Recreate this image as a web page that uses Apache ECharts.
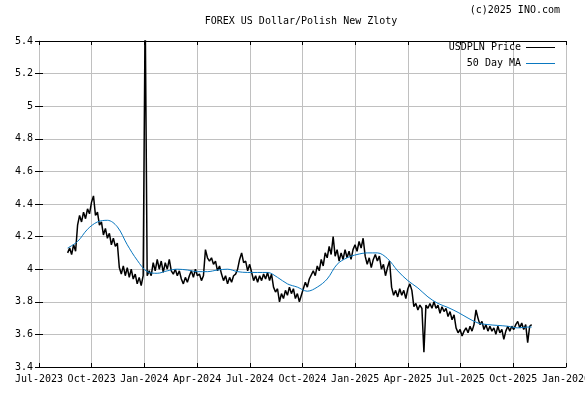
<!DOCTYPE html>
<html>
<head>
<meta charset="utf-8">
<script src="https://cdn.jsdelivr.net/npm/echarts@6/dist/echarts.min.js"></script>
<style>
html,body{margin:0;padding:0;background:#fff;}
#chart{width:585px;height:394px;}
</style>
</head>
<body>
<div id="chart"></div>
<script>
// Quarter tick labels and their dates
const quarterLabels = ['Jul-2023','Oct-2023','Jan-2024','Apr-2024','Jul-2024','Oct-2024','Jan-2025','Apr-2025','Jul-2025','Oct-2025','Jan-2026'];
const quarterStarts = ['2023-07-01','2023-10-01','2024-01-01','2024-04-01','2024-07-01','2024-10-01','2025-01-01','2025-04-01','2025-07-01','2025-10-01','2026-01-01'];

// Price samples (regularly spaced from priceStart, every priceStepDays)
const priceStart = '2023-08-20';
const priceStepDays = 3.47;
const priceValues = [
  4.10,4.13,4.09,4.15,4.11,4.27,4.33,4.29,4.35,4.31,
  4.37,4.34,4.41,4.45,4.33,4.35,4.27,4.29,4.21,4.25,
  4.19,4.22,4.15,4.19,4.14,4.16,4.01,3.97,4.02,3.96,
  4.01,3.95,4.00,3.94,3.97,3.91,3.95,3.90,3.96,5.60,
  3.96,3.99,3.96,4.04,3.99,4.06,4.00,4.05,3.98,4.04,
  4.00,4.06,3.99,3.97,4.00,3.96,3.99,3.94,3.91,3.95,
  3.92,3.96,3.99,3.95,4.00,3.96,3.97,3.93,3.96,4.12,
  4.07,4.05,4.07,4.03,4.05,3.99,4.02,3.97,3.93,3.96,
  3.91,3.95,3.92,3.96,3.97,4.00,4.06,4.10,4.04,4.05,
  3.99,4.03,3.98,3.93,3.96,3.92,3.96,3.93,3.97,3.94,
  3.98,3.93,3.97,3.89,3.86,3.88,3.80,3.85,3.82,3.87,
  3.84,3.89,3.85,3.88,3.82,3.85,3.80,3.84,3.88,3.92,
  3.89,3.94,3.95,3.99,3.96,4.02,3.99,4.06,4.02,4.10,
  4.07,4.14,4.09,4.20,4.08,4.12,4.05,4.10,4.06,4.12,
  4.07,4.11,4.06,4.12,4.15,4.11,4.17,4.13,4.19,4.08,
  4.03,4.07,4.01,4.06,4.09,4.05,4.08,4.00,4.03,3.96,
  4.01,4.05,3.89,3.84,3.87,3.83,3.88,3.84,3.87,3.82,
  3.88,3.91,3.87,3.77,3.79,3.75,3.78,3.76,3.49,3.78,
  3.76,3.79,3.76,3.80,3.76,3.78,3.73,3.77,3.74,3.76,
  3.71,3.74,3.69,3.72,3.64,3.61,3.63,3.59,3.62,3.64,
  3.61,3.65,3.62,3.66,3.75,3.70,3.66,3.68,3.63,3.66,
  3.62,3.65,3.62,3.64,3.60,3.65,3.61,3.63,3.57,3.62,
  3.65,3.62,3.65,3.63,3.66,3.68,3.64,3.67,3.63,3.66,
  3.55,3.65,3.66
];

// 50 day moving average, sampled every 5th price sample (last one at the final sample)
const maEvery = 5;
const maValues = [
  4.13,4.17,4.245,4.29,4.30,4.26,4.15,4.055,3.985,3.975,
  3.99,4.00,3.995,3.985,3.985,3.995,4.00,3.985,3.98,3.98,
  3.98,3.95,3.91,3.89,3.865,3.89,3.94,4.03,4.07,4.09,
  4.10,4.10,4.065,3.99,3.93,3.885,3.83,3.79,3.765,3.735,
  3.70,3.67,3.66,3.655,3.65,3.64,3.645,3.645
];

const FONT = '"DejaVu Sans Mono", monospace';
const DAY = 86400000;
const qMs = quarterStarts.map(s => Date.parse(s + 'T00:00:00Z'));
function toQuarterPos(t) {
  for (let k = 0; k < qMs.length - 1; k++) {
    if (t >= qMs[k] && t < qMs[k + 1]) return k + (t - qMs[k]) / (qMs[k + 1] - qMs[k]);
  }
  return qMs.length - 1;
}
const t0 = Date.parse(priceStart + 'T00:00:00Z');
const priceX = priceValues.map((_, i) => toQuarterPos(t0 + i * priceStepDays * DAY));
const priceData = priceValues.map((v, i) => [priceX[i], v]);
const maData = maValues.map((v, k) => [priceX[Math.min(k * maEvery, priceValues.length - 1)], v]);

const chart = echarts.init(document.getElementById('chart'), null, {renderer: 'canvas'});
const gridColor = '#c0c0c0';
const tickStyle = {show: true, inside: true, length: 4, lineStyle: {color: '#000', width: 1}};
chart.setOption({
  animation: false,
  backgroundColor: '#fff',
  grid: {left: 39, right: 19, top: 41, bottom: 27, containLabel: false, outerBoundsMode: 'none'},
  graphic: [
    {type: 'text', x: 301, y: 21, style: {text: 'FOREX US Dollar/Polish New Zloty', font: '10px ' + FONT, fill: '#000', textAlign: 'center', textVerticalAlign: 'middle'}},
    {type: 'text', x: 560, y: 10, style: {text: '(c)2025 INO.com', font: '10px ' + FONT, fill: '#000', textAlign: 'right', textVerticalAlign: 'middle'}}
  ],
  legend: [
    {data: ['USDPLN Price'], orient: 'vertical', right: 30, top: 42.5, align: 'right', icon: 'rect', itemWidth: 29, itemHeight: 1, padding: 0,
     textStyle: {fontFamily: FONT, fontSize: 10, color: '#000'}, selectedMode: false},
    {data: ['50 Day MA'], orient: 'vertical', right: 30, top: 58.5, align: 'right', icon: 'rect', itemWidth: 29, itemHeight: 1, padding: 0,
     textStyle: {fontFamily: FONT, fontSize: 10, color: '#000'}, selectedMode: false}
  ],
  xAxis: [
    {type: 'value', min: 0, max: 10, interval: 1, position: 'bottom',
     axisLine: {show: true, lineStyle: {color: '#000', width: 1}},
     axisTick: tickStyle,
     axisLabel: {formatter: v => quarterLabels[Math.round(v)] || '', fontFamily: FONT, fontSize: 10, color: '#000', margin: 7, hideOverlap: false},
     splitLine: {show: true, lineStyle: {color: gridColor, width: 1}}},
    {type: 'value', min: 0, max: 10, interval: 1, position: 'top',
     axisLine: {show: true, lineStyle: {color: '#000', width: 1}},
     axisTick: tickStyle, axisLabel: {show: false}, splitLine: {show: false}}
  ],
  yAxis: [
    {type: 'value', min: 3.4, max: 5.4, interval: 0.2, position: 'left',
     axisLine: {show: true, lineStyle: {color: gridColor, width: 1}},
     axisTick: tickStyle,
     axisLabel: {fontFamily: FONT, fontSize: 10, color: '#000', margin: 6},
     splitLine: {show: true, lineStyle: {color: gridColor, width: 1}}},
    {type: 'value', min: 3.4, max: 5.4, interval: 0.2, position: 'right',
     axisLine: {show: true, lineStyle: {color: gridColor, width: 1}},
     axisTick: tickStyle, axisLabel: {show: false}, splitLine: {show: false}}
  ],
  series: [
    {name: 'USDPLN Price', type: 'line', xAxisIndex: 0, yAxisIndex: 0, data: priceData, showSymbol: false, clip: true,
     color: '#000', lineStyle: {color: '#000', width: 1.5}},
    {name: '50 Day MA', type: 'line', xAxisIndex: 0, yAxisIndex: 0, data: maData, showSymbol: false, smooth: 0.35, clip: true,
     color: '#0a78c0', lineStyle: {color: '#0a78c0', width: 1}}
  ]
});
</script>
</body>
</html>
